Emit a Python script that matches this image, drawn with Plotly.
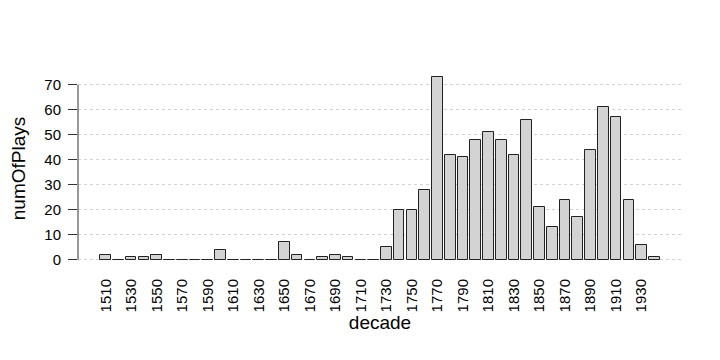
import plotly.graph_objects as go

decades = list(range(1510, 1950, 10))
num_of_plays = [2, 0, 1, 1, 2, 0, 0, 0, 0, 4,
                0, 0, 0, 0, 7, 2, 0, 1, 2, 1,
                0, 0, 5, 20, 20, 28, 73, 42, 41, 48,
                51, 48, 42, 56, 21, 13, 24, 17, 44, 61,
                57, 24, 6, 1]
tick_vals = list(range(1510, 1940, 20))
tick_text = [str(v) for v in tick_vals]
y_ticks = list(range(0, 80, 10))

fig = go.Figure()
fig.add_trace(go.Bar(
    x=decades, y=num_of_plays, width=8.333,
    marker=dict(color="#D3D3D3", line=dict(color="#222222", width=1)),
))

font = dict(family="Liberation Sans, Arial, sans-serif", size=15.5, color="#000000")
tfont = dict(family="Liberation Sans, Arial, sans-serif", size=15, color="#000000")

# the page body has an 8px default margin, so the figure is sized 712x352
fig.update_layout(
    width=712, height=352,
    margin=dict(l=70, r=38, t=62, b=93),
    plot_bgcolor="white", paper_bgcolor="white",
    showlegend=False, font=font, bargap=0,
)
fig.update_xaxes(
    range=[1488.33, 1961.67], tickmode="array", tickvals=tick_vals, ticktext=tick_text,
    tickangle=-90, showgrid=False, zeroline=False, showline=False, automargin=False,
    ticks="outside", ticklen=5, tickcolor="rgba(0,0,0,0)",
    title=dict(text="decade", standoff=4), tickfont=tfont,
)
fig.update_yaxes(
    range=[-2.92, 75.92], tickmode="array", tickvals=y_ticks, automargin=False,
    showgrid=True, gridcolor="#D3D3D3", griddash="dot", gridwidth=1,
    zeroline=False, showline=False,
    ticks="outside", ticklen=9, tickcolor="#333333", tickwidth=1,
    ticklabelstandoff=4,
    title=dict(text="numOfPlays", standoff=28), tickfont=tfont,
)
fig.add_shape(type="line", xref="paper", yref="y", x0=0, x1=0, y0=0, y1=70,
              line=dict(color="#333333", width=1))

fig.write_html("out.html")
